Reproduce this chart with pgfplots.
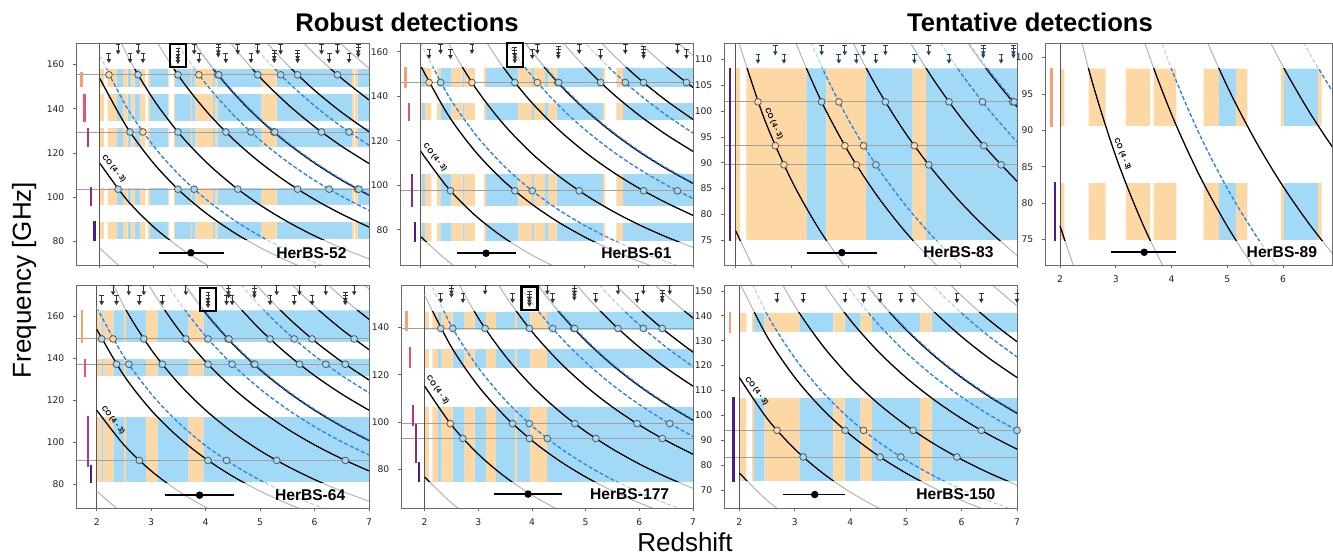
\documentclass[border=0pt]{standalone}
\usepackage{fontspec}
\setmainfont{DejaVu Sans}
\newfontfamily\arial{Liberation Sans}
\usepackage{pgfplots}
\usepackage{pgfplotstable}
\pgfplotsset{compat=1.18}

\definecolor{cblue}{HTML}{A2D9F7}
\definecolor{corange}{HTML}{FDD8A5}
\definecolor{cgray}{HTML}{B4B4B4}
\definecolor{cdash}{HTML}{2A7FE6}
\definecolor{cpale}{HTML}{AFCFF5}
\definecolor{cedge}{HTML}{5A5A5A}
\definecolor{hlc}{HTML}{A0A0A0}
\definecolor{vlc}{HTML}{555555}
\definecolor{axc}{HTML}{6A6A6A}
\definecolor{tickc}{HTML}{222222}
\definecolor{arrc}{HTML}{333333}
\definecolor{arrn}{HTML}{1E4466}
\definecolor{lbA}{HTML}{F3A07A}
\definecolor{lbB}{HTML}{E2556B}
\definecolor{lbC}{HTML}{B5377A}
\definecolor{lbD}{HTML}{8B2A85}
\definecolor{lbE}{HTML}{4E1A86}

\pgfdeclareplotmark{uplim}{%
  \pgfpathmoveto{\pgfqpoint{0pt}{1.2pt}}%
  \pgfpathlineto{\pgfqpoint{0pt}{4.8pt}}%
  \pgfpathmoveto{\pgfqpoint{-1.2pt}{4.8pt}}%
  \pgfpathlineto{\pgfqpoint{1.2pt}{4.8pt}}%
  \pgfusepathqstroke
  \pgfpathmoveto{\pgfqpoint{0pt}{0pt}}%
  \pgfpathlineto{\pgfqpoint{-1.15pt}{2pt}}%
  \pgfpathlineto{\pgfqpoint{1.15pt}{2pt}}%
  \pgfpathclose
  \pgfusepathqfill
}
\pgfdeclareplotmark{selbox}{%
  \pgfsetlinewidth{1.1pt}%
  \pgfsetcornersarced{\pgfqpoint{1.6pt}{1.6pt}}%
  \pgfpathrectangle{\pgfqpoint{-4pt}{-5.9pt}}{\pgfqpoint{8pt}{11.8pt}}%
  \pgfusepathqstroke
}

% observed frequency (GHz) of each line versus redshift (z >= 2)
\pgfplotstableread{
z co2 co3 co4 co5 co6 co7 co8 co9 co10 co11 co12 ci10 hA ci21 hB
2.0 76.85 115.27 153.68 192.09 230.49 268.88 307.27 345.64 384.00 422.34 460.67 164.05 250.68 269.78 329.31
2.5 65.87 98.80 131.73 164.65 197.56 230.47 263.37 296.26 329.14 362.00 394.86 140.62 214.87 231.24 282.26
3.0 57.63 86.45 115.26 144.07 172.87 201.66 230.45 259.23 288.00 316.75 345.50 123.04 188.01 202.34 246.98
3.5 51.23 76.84 102.45 128.06 153.66 179.26 204.84 230.42 256.00 281.56 307.11 109.37 167.12 179.85 219.54
4.0 46.11 69.16 92.21 115.25 138.29 161.33 184.36 207.38 230.40 253.40 276.40 98.43 150.41 161.87 197.59
4.5 41.92 62.87 83.83 104.78 125.72 146.66 167.60 188.53 209.45 230.37 251.27 89.48 136.73 147.15 179.62
5.0 38.42 57.63 76.84 96.04 115.25 134.44 153.63 172.82 192.00 211.17 230.33 82.03 125.34 134.89 164.65
5.5 35.47 53.20 70.93 88.66 106.38 124.10 141.82 159.53 177.23 194.93 212.61 75.72 115.70 124.51 151.99
6.0 32.93 49.40 65.86 82.32 98.78 115.24 131.69 148.13 164.57 181.00 197.43 70.31 107.43 115.62 141.13
6.5 30.74 46.11 61.47 76.84 92.20 107.55 122.91 138.25 153.60 168.94 184.27 65.62 100.27 107.91 131.72
7.0 28.82 43.22 57.63 72.03 86.43 100.83 115.23 129.61 144.00 158.38 172.75 61.52 94.00 101.17 123.49
}\linetab

% stripe tables: z start, orange height, blue height
\pgfplotstableread{
z o b
2.000 158 0
2.076 0 0
2.143 158 0
2.319 0 158
2.433 158 0
2.517 0 158
2.583 158 0
2.647 0 158
2.751 158 0
2.844 0 0
2.894 158 0
2.928 0 158
3.274 158 0
3.291 0 0
3.376 158 0
3.396 0 158
3.689 158 0
3.714 0 158
3.778 158 0
4.105 0 158
4.149 158 0
4.192 0 158
5.006 158 0
5.284 0 158
6.685 158 0
6.721 0 0
6.741 158 0
6.787 0 158
7.000 0 0
}\stA
\pgfplotstableread{
z o b
2.000 152.8 0
2.017 0 152.8
2.078 152.8 0
2.195 0 0
2.296 152.8 0
2.360 0 152.8
2.566 152.8 0
2.771 0 152.8
2.808 152.8 0
2.994 0 0
3.166 152.8 0
3.200 0 152.8
3.792 152.8 0
4.040 0 152.8
4.078 152.8 0
4.279 0 152.8
4.348 152.8 0
4.494 0 152.8
5.347 152.8 0
5.388 0 0
5.592 152.8 0
5.719 0 152.8
7.000 0 0
}\stB
\pgfplotstableread{
z o b
2.000 108.3 0
2.074 0 0
2.193 108.3 0
3.257 0 108.3
3.611 108.3 0
4.321 0 108.3
5.147 108.3 0
5.385 0 108.3
7.000 0 0
}\stC
\pgfplotstableread{
z o b
2.000 98.49 0
2.078 0 0
2.511 98.49 0
2.816 0 0
3.181 98.49 0
3.617 0 0
3.681 98.49 0
4.088 0 0
4.575 98.49 0
4.851 0 98.49
5.155 98.49 0
5.359 0 0
5.968 98.49 0
6.021 0 98.49
6.630 98.49 0
6.694 0 0
7.000 0 0
}\stD
\pgfplotstableread{
z o b
2.000 162.7 0
2.085 0 162.7
2.126 162.7 0
2.305 0 162.7
2.503 162.7 0
2.542 0 162.7
2.907 162.7 0
3.113 0 162.7
3.688 162.7 0
3.957 0 162.7
7.000 0 0
}\stE
\pgfplotstableread{
z o b
2.000 146.6 0
2.078 0 0
2.145 146.6 0
2.247 0 146.6
2.315 146.6 0
2.522 0 146.6
2.745 146.6 0
2.931 0 146.6
3.143 146.6 0
3.329 0 146.6
3.681 146.6 0
3.717 0 146.6
3.971 146.6 0
4.283 0 146.6
7.000 0 0
}\stF
\pgfplotstableread{
z o b
2.000 141.2 0
2.128 0 0
2.232 141.2 0
2.265 0 141.2
2.456 141.2 0
3.081 0 141.2
3.692 141.2 0
3.897 0 141.2
4.183 141.2 0
4.386 0 141.2
5.256 141.2 0
5.462 0 141.2
7.000 0 0
}\stG

\pgfplotsset{
  panel/.style={
    scale only axis, anchor=north west, axis on top,
    axis line style={draw=axc, line width=0.45pt},
    tick style={draw=axc, line width=0.4pt},
    tick align=outside, tick pos=left,
    major tick length=1.7pt,
    tick label style={font=\fontsize{4.6}{5}\selectfont, text=tickc},
    yticklabel style={xshift=-0.6pt},
    /pgf/number format/assume math mode=true,
    xtick={2,3,4,5,6,7},
    clip=true,
  },
}

\newcommand{\stripes}[1]{%
  \addplot[ybar interval, fill=cblue, draw=none] table[x=z,y=b]{#1};
  \addplot[ybar interval, fill=corange, draw=none] table[x=z,y=o]{#1};}
\newcommand{\wmask}[2]{\addplot[fill=white, draw=none] coordinates {(1.99,#1) (7.05,#1) (7.05,#2) (1.99,#2)};}
\newcommand{\hln}[1]{\addplot[hlc, line width=0.45pt] coordinates {(1,#1) (8,#1)};}
\newcommand{\vln}{\addplot[vlc, line width=0.5pt] coordinates {(2,0) (2,300)};}
\newcommand{\gcu}[1]{\addplot[cgray, line width=0.5pt, smooth] table[x=z,y=#1]{\linetab};}
\newcommand{\gda}[1]{\addplot[cpale, line width=0.55pt, smooth, dash pattern=on 2pt off 1.1pt] table[x=z,y=#1]{\linetab};}
\newcommand{\bcu}[1]{\addplot[black, line width=0.62pt, smooth] table[x=z,y=#1]{\linetab};}
\newcommand{\bda}[1]{\addplot[cdash, line width=0.62pt, smooth, dash pattern=on 2pt off 1.1pt] table[x=z,y=#1]{\linetab};}
\newcommand{\drawcurves}[2]{%
  \gcu{co2}\gcu{co3}\gcu{co4}\gcu{co5}\gcu{co6}\gcu{co7}\gcu{co8}\gcu{co9}\gcu{co10}\gcu{co11}\gcu{co12}%
  \gda{ci10}\gda{hA}\gda{ci21}\gda{hB}%
  \begin{scope}
  \clip (axis cs:1,#1) rectangle (axis cs:8,#2);
  \bcu{co2}\bcu{co3}\bcu{co4}\bcu{co5}\bcu{co6}\bcu{co7}\bcu{co8}\bcu{co9}\bcu{co10}\bcu{co11}\bcu{co12}%
  \bda{ci10}\bda{hA}\bda{ci21}\bda{hB}%
  \end{scope}}
\newcommand{\circO}[1]{\addplot[only marks, mark=*, mark size=1.7pt, mark options={fill=corange, draw=cedge, line width=0.4pt}] coordinates {#1};}
\newcommand{\circB}[1]{\addplot[only marks, mark=*, mark size=1.7pt, mark options={fill=cblue, draw=cedge, line width=0.4pt}] coordinates {#1};}
\newcommand{\arrs}[2]{\addplot[only marks, mark=uplim, color=#1, mark options={solid, line width=0.42pt}] coordinates {#2};}
\newcommand{\selbox}[2]{\addplot[only marks, mark=selbox, black] coordinates {(#1,#2)};}
\newcommand{\lbar}[4]{\addplot[#1, line width=1.2pt] coordinates {(#2,#3) (#2,#4)};}
\newcommand{\ebar}[4]{\addplot[black, line width=0.9pt] coordinates {(#1,#4) (#2,#4)};
  \addplot[only marks, mark=*, mark size=1.65pt, black] coordinates {(#3,#4)};}
\newcommand{\plabel}[3]{\node[font=\arial\bfseries\fontsize{7.8}{9}\selectfont] at (axis cs:#1,#2) {#3};}
\newcommand{\colabel}[3]{\node[font=\arial\bfseries\fontsize{3.7}{4}\selectfont, rotate=#3, inner sep=0pt] at (axis cs:#1,#2) {CO (4 - 3)};}

\begin{document}
\begin{tikzpicture}
\path[use as bounding box] (0,0) rectangle (666.5pt,-277pt);

% ---------------- HerBS-52
\begin{axis}[panel, at={(38pt,-21.5pt)}, width=146.5pt, height=111pt,
  xmin=1.556, xmax=7, ymin=69.25, ymax=169.8, ytick={80,100,120,140,160}, xticklabels={}]
\stripes{\stA}
\wmask{0}{80.9}\wmask{88.8}{96.5}\wmask{104.2}{122.9}\wmask{131.1}{134.3}\wmask{146.7}{149.9}
\hln{155.39}\hln{129.50}\hln{103.60}
\vln
\drawcurves{80.9}{158.0}
\circO{(2.167,155.39) (3.840,155.39) (4.191,155.39) (2.800,129.50) (6.786,103.60)}
\circB{(2.709,155.39) (3.450,155.39) (4.209,155.39) (4.932,155.39) (5.358,155.39) (5.673,155.39) (6.414,155.39) (2.560,129.50) (3.450,129.50) (4.340,129.50) (4.807,129.50) (5.229,129.50) (5.250,129.50) (6.118,129.50) (6.629,129.50) (7.007,129.50) (2.338,103.60) (3.450,103.60) (3.751,103.60) (4.562,103.60) (5.674,103.60) (6.259,103.60) (6.812,103.60)}
\arrs{arrc}{(2.167,160.7) (2.338,164.6) (2.560,160.7) (2.709,164.6) (2.800,160.7) (3.751,164.6) (3.840,160.7) (4.20,164.6) (4.20,163.24) (4.340,160.7) (4.562,164.6) (4.807,160.7) (4.932,164.6) (5.24,160.7) (5.24,162.06) (5.358,164.6) (5.673,160.7) (5.673,162.06) (6.118,164.6) (6.259,160.7) (6.414,164.6) (6.629,160.7) (6.80,164.6) (6.80,163.24) (3.45,160.24) (3.45,161.60) (3.45,162.97)}
\selbox{3.45}{164.1}
\lbar{lbA}{1.66}{149.9}{156.5}\lbar{lbB}{1.716}{134.1}{146.8}\lbar{lbC}{1.778}{122.6}{131.4}\lbar{lbD}{1.84}{96.0}{104.8}\lbar{lbE}{1.90}{80.3}{89.1}
\ebar{3.09}{4.30}{3.69}{74.8}
\plabel{5.93}{74.8}{HerBS-52}
\colabel{2.259}{112.8}{-51}
\end{axis}

% ---------------- HerBS-61
\begin{axis}[panel, at={(200pt,-21.5pt)}, width=146.5pt, height=111pt,
  xmin=1.62, xmax=7, ymin=64.1, ymax=164.0, ytick={80,100,120,140,160}, xticklabels={}]
\stripes{\stB}
\wmask{0}{74.9}\wmask{83.0}{90.8}\wmask{104.9}{129.3}\wmask{137.2}{144.3}
\hln{146.22}\hln{97.49}
\vln
\drawcurves{74.9}{152.8}
\circO{(2.153,146.22) (2.941,146.22) (4.143,146.22)}
\circB{(2.366,146.22) (3.729,146.22) (4.517,146.22) (4.535,146.22) (5.304,146.22) (5.757,146.22) (6.091,146.22) (6.879,146.22) (2.547,97.49) (3.729,97.49) (4.048,97.49) (4.911,97.49) (6.093,97.49) (6.714,97.49)}
\arrs{arrc}{(2.153,156.8) (2.366,159.06) (2.547,156.8) (2.941,159.06) (4.048,156.8) (4.143,159.06) (4.526,156.8) (4.526,158.15) (4.911,159.06) (5.304,156.8) (5.757,159.06) (6.092,156.8) (6.092,158.15) (6.714,159.06) (6.879,156.8) (3.729,154.83) (3.729,156.18) (3.729,157.53)}
\selbox{3.729}{158.65}
\lbar{lbA}{1.724}{143.9}{153.2}\lbar{lbB}{1.78}{129.0}{137.2}\lbar{lbD}{1.84}{90.4}{105.0}\lbar{lbE}{1.90}{74.6}{83.3}
\ebar{2.663}{3.75}{3.20}{69.4}
\plabel{5.96}{69.4}{HerBS-61}
\colabel{2.263}{112.5}{-51}
\end{axis}

% ---------------- HerBS-83
\begin{axis}[panel, at={(362pt,-21.5pt)}, width=146.5pt, height=111pt,
  xmin=1.794, xmax=7, ymin=70.2, ymax=113.2, ytick={75,80,85,90,95,100,105,110}, xticklabels={}]
\stripes{\stC}
\wmask{0}{75.0}
\hln{101.8}\hln{93.3}\hln{89.6}
\vln
\drawcurves{75.0}{108.3}
\circO{(2.397,101.8) (3.835,101.8) (2.706,93.3) (3.941,93.3) (4.275,93.3) (5.176,93.3) (2.859,89.6) (4.146,89.6)}
\circB{(3.529,101.8) (4.661,101.8) (5.792,101.8) (6.387,101.8) (6.924,101.8) (6.950,101.8) (6.411,93.3) (4.493,89.6) (5.432,89.6) (6.717,89.6)}
\arrs{arrn}{(2.397,109.2) (2.706,110.82) (2.859,109.2) (3.529,110.82) (3.835,109.2) (3.941,110.82) (4.146,109.2) (4.275,110.82) (4.493,109.2) (4.661,110.82) (5.176,109.2) (5.432,110.82) (5.792,109.2) (6.40,110.82) (6.40,110.24) (6.717,109.2) (6.937,110.82) (6.937,110.24)}
\lbar{lbE}{1.90}{74.9}{108.4}
\ebar{3.265}{4.518}{3.888}{72.6}
\plabel{5.96}{72.6}{HerBS-83}
\colabel{2.676}{97.5}{-65}
\end{axis}

% ---------------- HerBS-89
\begin{axis}[panel, at={(522.5pt,-21.5pt)}, width=143.5pt, height=111pt,
  xmin=1.73, xmax=6.88, ymin=71.5, ymax=102, ytick={75,80,85,90,95,100}, xtick={2,3,4,5,6}]
\stripes{\stD}
\wmask{0}{74.9}\wmask{82.7}{90.62}
\vln
\drawcurves{74.9}{98.49}
\lbar{lbA}{1.85}{90.5}{98.6}\lbar{lbE}{1.91}{74.85}{82.85}
\ebar{2.916}{4.083}{3.51}{73.25}
\plabel{5.98}{73.25}{HerBS-89}
\colabel{3.119}{86.7}{-67}
\end{axis}

% ---------------- HerBS-64
\begin{axis}[panel, at={(38pt,-142.5pt)}, width=146.5pt, height=111.5pt,
  xmin=1.62, xmax=7, ymin=68.8, ymax=174.7, ytick={80,100,120,140,160}]
\stripes{\stE}
\wmask{0}{81.0}\wmask{112.1}{131.6}\wmask{139.5}{147.5}
\hln{149.09}\hln{137.08}\hln{91.40}
\vln
\drawcurves{81.0}{162.7}
\circO{(2.301,149.09)}
\circB{(2.092,149.09) (2.865,149.09) (3.638,149.09) (4.044,149.09) (4.411,149.09) (4.429,149.09) (5.183,149.09) (5.626,149.09) (5.955,149.09) (6.727,149.09) (2.363,137.08) (2.590,137.08) (3.204,137.08) (4.044,137.08) (4.486,137.08) (4.885,137.08) (4.904,137.08) (5.725,137.08) (6.207,137.08) (6.564,137.08) (2.783,91.40) (4.044,91.40) (4.385,91.40) (5.305,91.40) (6.565,91.40)}
\arrs{arrc}{(2.092,165.1) (2.301,169.8) (2.363,165.1) (2.590,169.8) (2.783,165.1) (2.865,169.8) (3.204,165.1) (3.638,169.8) (4.385,165.1) (4.42,169.8) (4.42,168.38) (4.486,165.1) (4.895,169.8) (4.895,168.38) (5.183,165.1) (5.305,169.8) (5.626,165.1) (5.725,169.8) (5.955,165.1) (6.207,169.8) (6.565,165.1) (6.565,166.52) (6.727,169.8) (4.044,163.77) (4.044,165.19) (4.044,166.61)}
\selbox{4.044}{167.8}
\lbar{lbA}{1.726}{147.2}{163.0}\lbar{lbB}{1.78}{131.1}{139.8}\lbar{lbC}{1.84}{88.4}{112.4}\lbar{lbE}{1.90}{80.5}{89.2}
\ebar{3.261}{4.523}{3.889}{74.9}
\plabel{5.92}{74.9}{HerBS-64}
\colabel{2.299}{110.5}{-52}
\end{axis}

% ---------------- HerBS-177
\begin{axis}[panel, at={(200.5pt,-142.5pt)}, width=146pt, height=111.5pt,
  xmin=1.56, xmax=7, ymin=63.7, ymax=158.0, ytick={80,100,120,140}]
\stripes{\stF}
\wmask{0}{74.9}\wmask{106.5}{123.1}\wmask{130.9}{139.1}
\hln{139.63}\hln{99.38}\hln{93.10}
\vln
\drawcurves{74.9}{146.6}
\circO{(2.480,99.38)}
\circB{(2.302,139.63) (2.525,139.63) (3.127,139.63) (3.952,139.63) (4.386,139.63) (4.777,139.63) (4.796,139.63) (5.602,139.63) (6.075,139.63) (6.426,139.63) (3.639,99.38) (3.952,99.38) (4.799,99.38) (5.958,99.38) (6.567,99.38) (2.714,93.10) (3.952,93.10) (4.286,93.10) (5.190,93.10) (6.427,93.10)}
\arrs{arrc}{(2.302,150.4) (2.50,153.95) (2.50,152.69) (2.714,150.4) (3.127,153.95) (3.639,150.4) (4.286,153.95) (4.386,150.4) (4.79,153.95) (4.79,152.69) (4.79,151.43) (5.190,150.4) (5.602,153.95) (5.958,150.4) (6.075,153.95) (6.426,150.4) (6.426,151.66) (6.567,153.95) (3.952,148.82) (3.952,150.08) (3.952,151.35)}
\selbox{3.952}{152.4}
\lbar{lbA}{1.661}{138.6}{147.0}\lbar{lbB}{1.723}{122.7}{131.6}\lbar{lbC}{1.785}{98.4}{107.1}\lbar{lbD}{1.84}{82.6}{99.2}\lbar{lbE}{1.90}{74.6}{83.3}
\ebar{3.297}{4.562}{3.927}{69.6}
\plabel{5.82}{69.6}{HerBS-177}
\colabel{2.241}{113.6}{-54}
\end{axis}

% ---------------- HerBS-150
\begin{axis}[panel, at={(362pt,-142.5pt)}, width=146.5pt, height=111.5pt,
  xmin=1.725, xmax=7, ymin=62.8, ymax=152.4, ytick={70,80,90,100,110,120,130,140,150}]
\stripes{\stG}
\wmask{0}{73.7}\wmask{107.0}{133.4}
\hln{94.0}\hln{83.3}
\vln
\drawcurves{73.7}{141.2}
\circO{(2.679,94.0) (4.236,94.0)}
\circB{(3.905,94.0) (5.131,94.0) (6.356,94.0) (7.000,94.0) (3.151,83.3) (4.535,83.3) (4.908,83.3) (5.918,83.3)}
\arrs{arrc}{(2.679,145.2) (3.151,145.2) (3.905,145.2) (4.236,145.2) (4.535,145.2) (4.908,145.2) (5.131,145.2) (5.918,145.2) (6.356,145.2) (7.0,145.2)}
\lbar{lbA}{1.833}{133.1}{141.6}\lbar{lbE}{1.893}{73.3}{107.4}
\ebar{2.79}{3.91}{3.359}{68.2}
\plabel{5.90}{68.2}{HerBS-150}
\colabel{2.312}{109.7}{-52}
\end{axis}

\node[font=\arial\bfseries\fontsize{12.8}{14}\selectfont] at (203.5pt,-11pt) {Robust detections};
\node[font=\arial\bfseries\fontsize{12.8}{14}\selectfont] at (515pt,-11pt) {Tentative detections};
\node[font=\arial\fontsize{13}{15}\selectfont, rotate=90, anchor=base] at (15.5pt,-140pt) {Frequency [GHz]};
\node[font=\arial\fontsize{13}{15}\selectfont, anchor=base] at (342.5pt,-275.5pt) {Redshift};
\end{tikzpicture}
\end{document}
